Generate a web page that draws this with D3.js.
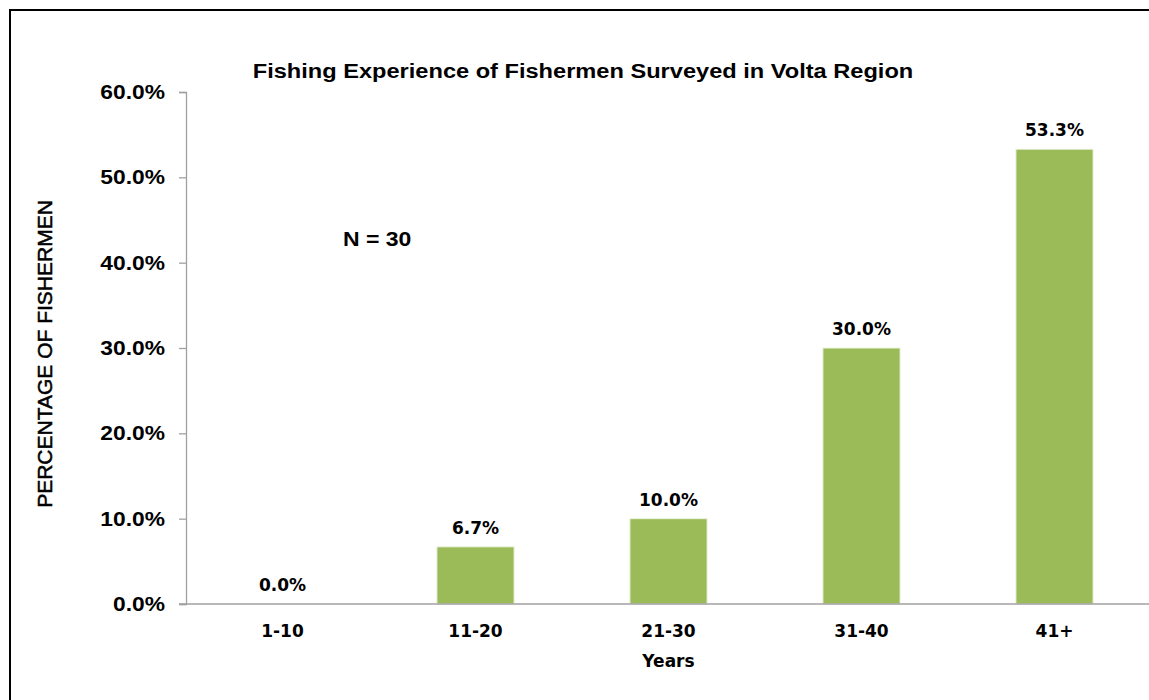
<!DOCTYPE html>
<html>
<head>
<meta charset="utf-8">
<script src="https://cdn.jsdelivr.net/npm/d3@7"></script>
<style>
  html, body { margin: 0; padding: 0; background: #fff; }
  svg { display: block; }
</style>
</head>
<body>
<svg id="chart" width="1149" height="700"></svg>
<script>
const categories = ["1-10", "11-20", "21-30", "31-40", "41+"];
const values = [0.0, 6.7, 10.0, 30.0, 53.3];
const yTicks = [0, 10, 20, 30, 40, 50, 60];
const title = "Fishing Experience of Fishermen Surveyed in Volta Region";
const yTitle = "PERCENTAGE OF FISHERMEN";
const xTitle = "Years";
const note = "N = 30";

const svg = d3.select("#chart");
const W = 1149, H = 700;
const margin = { left: 186, right: -2, top: 92, bottom: 96 };
const plotBottom = H - margin.bottom;
const ARIAL = "'Liberation Sans', Arial, sans-serif";
const VERD = "'DejaVu Sans', Verdana, sans-serif";

// widen Arial-like text horizontally, as in the reference
function widen(sel, factor) {
  sel.each(function () {
    const len = this.getComputedTextLength();
    d3.select(this).attr("textLength", len * factor).attr("lengthAdjust", "spacingAndGlyphs");
  });
}

// outer frame
svg.append("rect")
  .attr("x", 10).attr("y", 10)
  .attr("width", W + 10).attr("height", H + 10)
  .attr("fill", "none").attr("stroke", "#000").attr("stroke-width", 2);

const x = d3.scaleBand()
  .domain(categories)
  .range([margin.left, W - margin.right])
  .paddingInner(0.6)
  .paddingOuter(0.3);

const y = d3.scaleLinear()
  .domain([0, 60])
  .range([plotBottom, margin.top]);

// y axis
const yAxis = svg.append("g")
  .attr("transform", `translate(${margin.left},0)`)
  .call(d3.axisLeft(y).tickValues(yTicks).tickSize(7).tickPadding(14)
    .tickFormat(d => d.toFixed(1) + "%"));
yAxis.select(".domain").attr("stroke", "#a0a0a0").attr("stroke-width", 1.3);
yAxis.selectAll(".tick line").attr("stroke", "#a0a0a0").attr("stroke-width", 1.3);
yAxis.selectAll(".tick text")
  .attr("fill", "#000")
  .style("font-family", ARIAL)
  .style("font-weight", "bold")
  .style("font-size", "20px")
  .call(widen, 1.14);

// bars
svg.append("g").selectAll("rect")
  .data(values)
  .join("rect")
  .attr("x", (d, i) => x(categories[i]))
  .attr("y", d => y(d))
  .attr("width", x.bandwidth())
  .attr("height", d => y(0) - y(d))
  .attr("fill", "#9bbb59")
  .attr("stroke", "#eef3e2")
  .attr("stroke-width", d => d > 0 ? 1 : 0);

// x axis
const xAxis = svg.append("g")
  .attr("transform", `translate(0,${plotBottom})`)
  .call(d3.axisBottom(x).tickSize(0).tickPadding(33).tickSizeOuter(0));
xAxis.select(".domain").attr("stroke", "#a0a0a0").attr("stroke-width", 1.3)
  .attr("d", `M${margin.left - 7},0H${W + 5}`);
xAxis.selectAll(".tick text")
  .attr("fill", "#000")
  .attr("dy", 0)
  .style("font-family", VERD)
  .style("font-weight", "bold")
  .style("font-size", "17px");

// data labels
svg.append("g").selectAll("text")
  .data(values)
  .join("text")
  .attr("x", (d, i) => x(categories[i]) + x.bandwidth() / 2)
  .attr("y", d => y(d) - 13)
  .attr("text-anchor", "middle")
  .style("font-family", VERD)
  .style("font-weight", "bold")
  .style("font-size", "17px")
  .attr("fill", "#000")
  .text(d => d.toFixed(1) + "%");

// title
svg.append("text")
  .attr("x", 583).attr("y", 78)
  .attr("text-anchor", "middle")
  .style("font-family", ARIAL)
  .style("font-weight", "bold")
  .style("font-size", "20px")
  .text(title)
  .call(widen, 1.18);

// N note
svg.append("text")
  .attr("x", 343).attr("y", 246)
  .style("font-family", ARIAL)
  .style("font-weight", "bold")
  .style("font-size", "20px")
  .text(note)
  .call(widen, 1.15);

// y title
svg.append("text")
  .attr("transform", `translate(52,354) rotate(-90)`)
  .attr("text-anchor", "middle")
  .style("font-family", ARIAL)
  .style("font-size", "20px")
  .attr("stroke", "#000").attr("stroke-width", 0.5)
  .text(yTitle)
  .call(widen, 1.05);

// x title
svg.append("text")
  .attr("x", (margin.left + W - margin.right) / 2).attr("y", 667)
  .attr("text-anchor", "middle")
  .style("font-family", VERD)
  .style("font-weight", "bold")
  .style("font-size", "17px")
  .text(xTitle);
</script>
</body>
</html>
